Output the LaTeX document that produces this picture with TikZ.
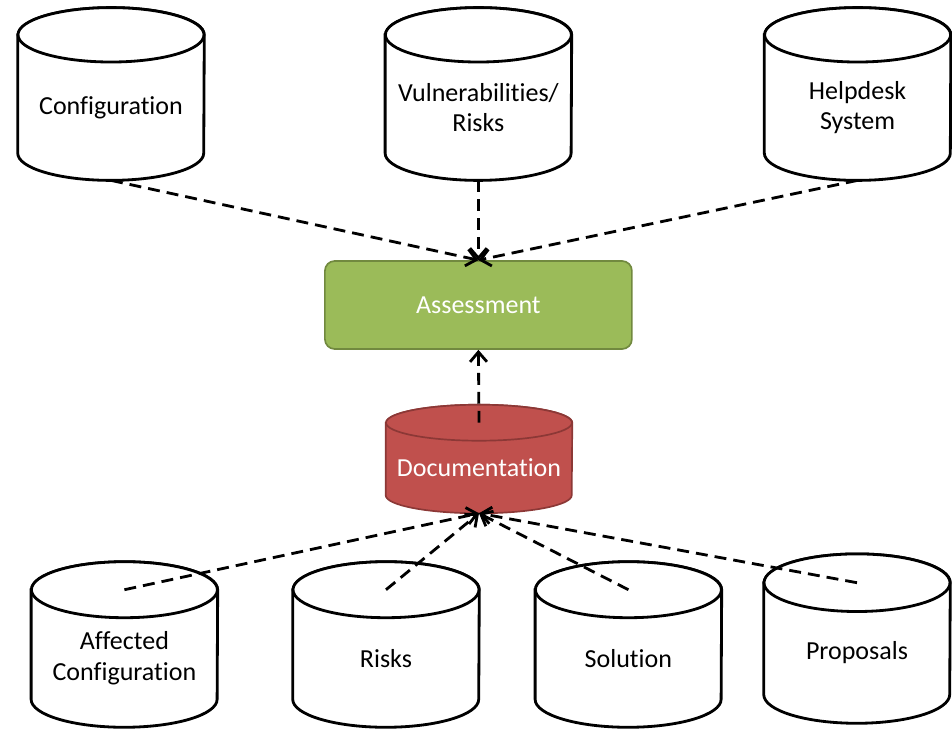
\documentclass[tikz,border=0pt]{standalone}
\usepackage{fontspec}
\setmainfont{Carlito}[Ligatures=NoCommon]
\usetikzlibrary{arrows.meta,calc,backgrounds}
\definecolor{assessfill}{HTML}{9BBB59}
\definecolor{assessline}{HTML}{71893F}
\definecolor{docfill}{HTML}{C0504D}
\definecolor{docline}{HTML}{8C3836}
% cylinder outline round a node: the node is the part below the cap centre
\newcommand\drum[3]{%
  \path[#3] (#1.north west) -- ($(#1.south west)+(0,#2)$)
    arc[start angle=180,end angle=360,x radius=2.325cm,y radius=#2]
    -- (#1.north east) arc[start angle=0,end angle=180,x radius=2.325cm,y radius=#2] -- cycle;
  \path[#3] (#1.north) ellipse[x radius=2.325cm,y radius=#2];
}

\begin{document}
\begin{tikzpicture}[
  font=\fontsize{18.5}{22}\selectfont,
  store/.style={minimum width=4.65cm,minimum height=3.625cm,align=center,inner sep=0pt},
  storebody/.style={draw,line width=2pt,fill=white},
  docbody/.style={draw=docline,fill=docfill,line width=1.2pt},
  task/.style={draw=assessline,fill=assessfill,text=white,line width=1.2pt,rounded corners=7pt,minimum width=7.675cm,minimum height=2.2cm},
  feed/.style={-{Straight Barb[length=7pt,width=12pt]},line width=2pt,dash pattern=on 8.5pt off 5pt}
]
  \useasboundingbox (0,0) rectangle (23.8,18.2);
  % sources on top
  \node[store] (conf) at (2.775,15.51) {Configuration};
  \node[store] (vuln) at (11.96,15.51) {Vulnerabilities/\\Risks};
  \node[store] (help) at (21.44,15.51) {Helpdesk\\System};
  \node[task] (assess) at (11.96,10.575) {Assessment};
  \node[store,minimum height=2.25cm,text=white] (doc) at (11.975,6.5) {Documentation};
  % results below
  \node[store,minimum height=3.425cm] (aff) at (3.11,1.7375) {Affected\\Configuration};
  \node[store,minimum height=3.425cm] (risk) at (9.65,1.7375) {Risks};
  \node[store,minimum height=3.425cm] (sol) at (15.71,1.7375) {Solution};
  \node[store,minimum height=3.5cm] (prop) at (21.425,1.875) {Proposals};
  \begin{scope}[on background layer]
    \drum{conf}{0.68cm}{storebody}
    \drum{vuln}{0.68cm}{storebody}
    \drum{help}{0.68cm}{storebody}
    \drum{doc}{0.45cm}{docbody}
    \drum{aff}{0.7cm}{storebody}
    \drum{risk}{0.7cm}{storebody}
    \drum{sol}{0.7cm}{storebody}
    \drum{prop}{0.72cm}{storebody}
  \end{scope}
  \draw[feed] (conf.south) -- (assess.north);
  \draw[feed] (vuln.south) -- (assess.north);
  \draw[feed] (help.south) -- (assess.north);
  \draw[feed] (doc.north) -- (assess.south);
  \draw[feed] (aff.north) -- (doc.south);
  \draw[feed] (risk.north) -- (doc.south);
  \draw[feed] (sol.north) -- (doc.south);
  \draw[feed] (prop.north) -- (doc.south);
\end{tikzpicture}
\end{document}
